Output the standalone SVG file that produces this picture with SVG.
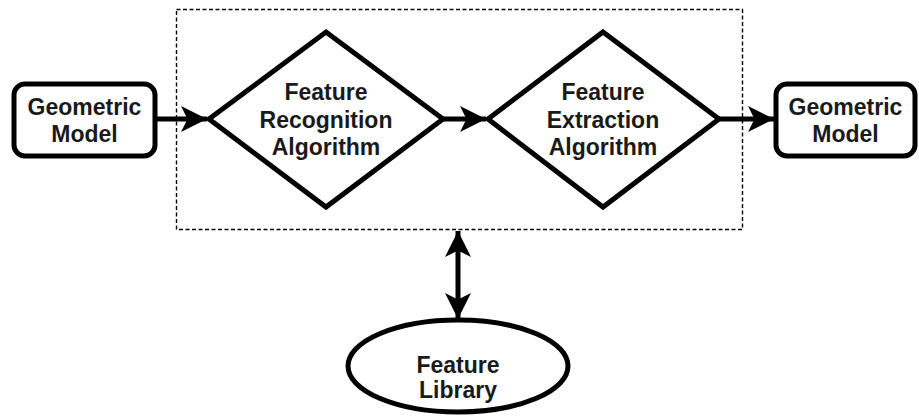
<svg xmlns="http://www.w3.org/2000/svg" width="919" height="418" viewBox="0 0 919 418">
<defs>
<marker id="ah" viewBox="0 0 10 10" refX="10" refY="5" markerWidth="5.2" markerHeight="5.2" orient="auto-start-reverse" markerUnits="strokeWidth">
<path d="M0,0 L10,5 L0,10 L2.5,5 Z" fill="#000"/>
</marker>
<style>
.shape{fill:#fff;stroke:#000;stroke-width:5;stroke-linejoin:miter}
.lbl{font-family:"Liberation Sans",Arial,sans-serif;font-weight:bold;font-size:23px;fill:#1a1a1a;text-anchor:middle}
.conn{stroke:#000;stroke-width:5;fill:none}
</style>
</defs>
<rect width="919" height="418" fill="#fff"/>
<g id="group-box">
<rect x="176.5" y="9.5" width="566" height="220" fill="none" stroke="#000" stroke-width="1.4" stroke-dasharray="4,2.5"/>
</g>
<g id="connectors">
<line class="conn" x1="156" y1="119" x2="207" y2="119" marker-end="url(#ah)"/>
<line class="conn" x1="443" y1="119" x2="486" y2="119" marker-end="url(#ah)"/>
<line class="conn" x1="719" y1="119" x2="774" y2="119" marker-end="url(#ah)"/>
<line class="conn" x1="458" y1="231" x2="458" y2="319" marker-start="url(#ah)" marker-end="url(#ah)"/>
</g>
<g id="geometric-model-in">
<rect class="shape" x="14" y="84" width="141" height="72" rx="11"/>
<text class="lbl" x="84.5" y="115">Geometric</text>
<text class="lbl" x="84.5" y="142">Model</text>
</g>
<g id="feature-recognition">
<polygon class="shape" points="326,32 443,119 326,207 209,119"/>
<text class="lbl" x="326" y="100">Feature</text>
<text class="lbl" x="326" y="128">Recognition</text>
<text class="lbl" x="326" y="155">Algorithm</text>
</g>
<g id="feature-extraction">
<polygon class="shape" points="603,32 719,119 603,207 488,119"/>
<text class="lbl" x="603" y="100">Feature</text>
<text class="lbl" x="603" y="128">Extraction</text>
<text class="lbl" x="603" y="155">Algorithm</text>
</g>
<g id="geometric-model-out">
<rect class="shape" x="776" y="84" width="139" height="72" rx="11"/>
<text class="lbl" x="845.5" y="115">Geometric</text>
<text class="lbl" x="845.5" y="142">Model</text>
</g>
<g id="feature-library">
<ellipse class="shape" cx="458" cy="366" rx="110" ry="46"/>
<text class="lbl" x="458" y="373">Feature</text>
<text class="lbl" x="458" y="398">Library</text>
</g>
</svg>
